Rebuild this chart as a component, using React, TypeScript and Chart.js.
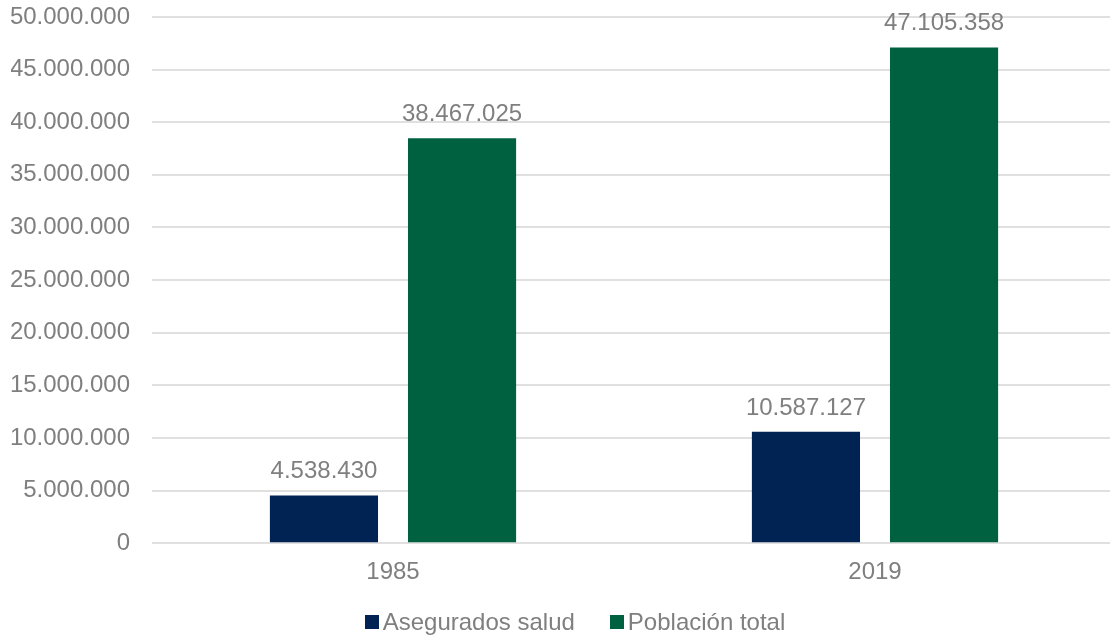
import React, { useEffect, useRef } from "react";
import { Chart, registerables } from "chart.js";

Chart.register(...registerables);

const categories = ["1985", "2019"];
const aseguradosSalud = [4538430, 10587127];
const poblacionTotal = [38467025, 47105358];
const seriesNames = ["Asegurados salud", "Población total"];
const seriesColors = ["#002353", "#006140"];
const yTicks = [0, 5000000, 10000000, 15000000, 20000000, 25000000, 30000000, 35000000, 40000000, 45000000, 50000000];

const FONT = "'Liberation Sans', Arial, sans-serif";
const TEXT = "#7f7f7f";

const fmt = (n: number) => String(Math.round(n)).replace(/\B(?=(\d{3})+(?!\d))/g, ".");

const dataLabelPlugin = {
  id: "dataLabels",
  afterDatasetsDraw(chart: any) {
    const ctx = chart.ctx;
    ctx.save();
    ctx.font = `24px ${FONT}`;
    ctx.fillStyle = TEXT;
    ctx.textAlign = "center";
    ctx.textBaseline = "alphabetic";
    chart.data.datasets.forEach((ds: any, i: number) => {
      const meta = chart.getDatasetMeta(i);
      meta.data.forEach((bar: any, j: number) => {
        ctx.fillText(fmt(ds.data[j]), bar.x, bar.y - 17);
      });
    });
    ctx.restore();
  },
};

export default function App() {
  const ref = useRef<HTMLCanvasElement>(null);
  useEffect(() => {
    if (!ref.current) return;
    const chart = new Chart(ref.current, {
      type: "bar",
      data: {
        labels: categories,
        datasets: [
          { label: seriesNames[0], data: aseguradosSalud, backgroundColor: seriesColors[0] },
          { label: seriesNames[1], data: poblacionTotal, backgroundColor: seriesColors[1] },
        ],
      },
      options: {
        animation: false,
        responsive: false,
        datasets: { bar: { categoryPercentage: 0.573, barPercentage: 0.783 } },
        layout: { padding: { left: 11, top: 17, right: 0, bottom: 41 } },
        plugins: { legend: { display: false }, tooltip: { enabled: false } },
        scales: {
          x: {
            grid: { display: false },
            border: { display: false },
            ticks: { color: TEXT, font: { family: FONT, size: 24 }, padding: 7 },
          },
          y: {
            min: 0,
            max: 50000000,
            afterBuildTicks: (scale: any) => {
              scale.ticks = yTicks.map((v) => ({ value: v }));
            },
            afterFit: (scale: any) => {
              scale.width = 141;
              scale.paddingTop = 0;
              scale.paddingBottom = 0;
            },
            grid: { color: "#e0e0e0", lineWidth: 2, drawTicks: false },
            border: { display: false },
            ticks: {
              color: TEXT,
              font: { family: FONT, size: 24 },
              padding: 22,
              callback: (v: any) => fmt(Number(v)),
            },
          },
        },
      },
      plugins: [dataLabelPlugin],
    });
    return () => chart.destroy();
  }, []);

  return (
    <div style={{ position: "fixed", left: 0, top: 0, width: 1110, height: 635, overflow: "hidden", background: "#fff" }}>
      <canvas ref={ref} width={1116} height={635} style={{ display: "block" }} />
      <div
        style={{
          position: "absolute",
          left: 20,
          width: 1110,
          top: 608,
          display: "flex",
          justifyContent: "center",
          alignItems: "center",
          fontFamily: FONT,
          fontSize: 24,
          color: TEXT,
          lineHeight: "28px",
        }}
      >
        {seriesNames.map((n, i) => (
          <span key={n} style={{ display: "flex", alignItems: "center", marginLeft: i ? 35 : 0 }}>
            <span style={{ width: 14, height: 14, background: seriesColors[i], display: "inline-block", marginRight: 4 }} />
            <span>{n}</span>
          </span>
        ))}
      </div>
    </div>
  );
}
